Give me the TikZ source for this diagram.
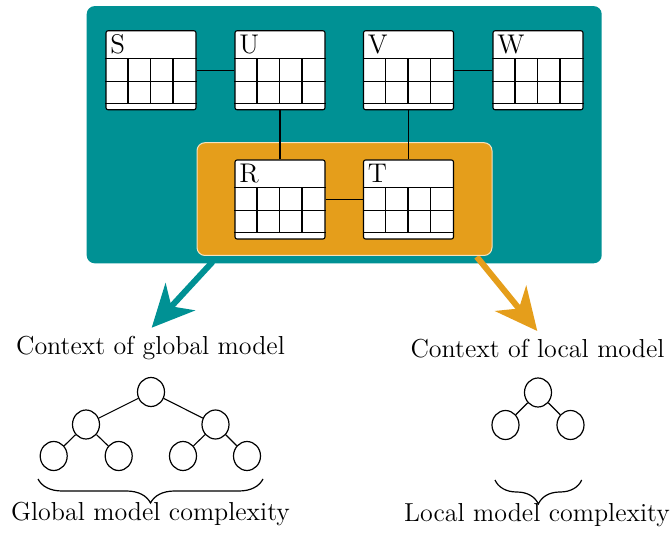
\documentclass[tikz,border=0pt]{standalone}
\usetikzlibrary{arrows.meta,shapes.geometric,decorations.pathreplacing,calc}
\definecolor{tealbox}{RGB}{0,145,148}
\definecolor{ochre}{RGB}{229,158,27}
\definecolor{ochreedge}{RGB}{246,226,190}

\begin{document}
\begin{tikzpicture}[x=0.5pt,y=-0.5pt,
  txt/.style={font=\fontsize{13}{15.6}\selectfont, inner sep=0pt},
  tbl/.style={draw=black, fill=white, rounded corners=1pt, line width=0.55pt,
              minimum width=45pt, minimum height=39.5pt, inner sep=0pt},
  gridline/.style={draw=black, line width=0.55pt},
  link/.style={draw=black, line width=0.6pt},
  vertex/.style={ellipse, draw=black, line width=0.6pt, fill=white,
                 minimum width=13.5pt, minimum height=14.5pt, inner sep=0pt},
  treeedge/.style={draw=black, line width=0.55pt},
  bigarrow/.style={line width=3pt, -{Stealth[length=21pt,width=20pt,inset=6.5pt]}},
  bracket/.style={draw=black, line width=0.6pt, decorate,
                  decoration={brace, amplitude=12pt}}]

\useasboundingbox (0,0) rectangle (670,534);

% outer container of the global model
\node[fill=tealbox, rounded corners=4pt, minimum width=257.5pt,
      minimum height=128.6pt, inner sep=0pt] (global) at (344.2,134.7) {};

% arrows leading out of the two contexts
\coordinate (gstart) at (212.7,261.7);
\coordinate (gtip)   at (151.7,327.7);
\coordinate (lstart) at (476.7,256.7);
\coordinate (ltip)   at (537.3,331.0);
\draw[bigarrow, tealbox] (gstart) -- (gtip);
\draw[bigarrow, ochre]   (lstart) -- (ltip);

% inner container of the local model
\node[fill=ochre, draw=ochreedge, line width=0.5pt, rounded corners=4pt,
      minimum width=147.5pt, minimum height=56.4pt, inner sep=0pt]
      (local) at (344.5,199.1) {};

% relation tables
\node[tbl] (S) at (151,70.25)   {};
\node[tbl] (U) at (280,70.25)   {};
\node[tbl] (V) at (408.5,70.25) {};
\node[tbl] (W) at (538,70.25)   {};
\node[tbl] (R) at (280,199.5)   {};
\node[tbl] (T) at (408.5,199.5) {};

\foreach \t in {S,U,V,W,R,T}{
  \draw[gridline] ($(\t.north west)+(0,28.5)$) -- ($(\t.north east)+(0,28.5)$);
  \draw[gridline] ($(\t.north west)+(0,51)$)   -- ($(\t.north east)+(0,51)$);
  \draw[gridline] ($(\t.north west)+(0,73.5)$) -- ($(\t.north east)+(0,73.5)$);
  \foreach \c in {22.5,45,67.5}{
    \draw[gridline] ($(\t.north west)+(\c,28.5)$) -- ($(\t.north west)+(\c,73.5)$);
  }
  \node[txt, anchor=base west, font=\fontsize{13.5}{16}\selectfont] (\t-name)
        at ($(\t.north west)+(4.5,23)$) {\t};
}

% joins between tables
\draw[link] (S.east) -- (U.west);
\draw[link] (V.east) -- (W.west);
\draw[link] (R.east) -- (T.west);
\draw[link] (U.south) -- (R.north);
\draw[link] (V.south) -- (T.north);

% captions
\node[txt, anchor=base] (ctxg) at (150.5,355) {Context of global model};
\node[txt, anchor=base] (ctxl) at (537.5,358) {Context of local model};

% global model tree
\node[vertex] (g)   at (151,392)   {};
\node[vertex] (g1)  at (86,424.5)  {};
\node[vertex] (g2)  at (215.5,424.5) {};
\node[vertex] (g11) at (53.7,456)  {};
\node[vertex] (g12) at (118.7,456) {};
\node[vertex] (g21) at (183,456)   {};
\node[vertex] (g22) at (247,456)   {};
\draw[treeedge] (g) -- (g1);
\draw[treeedge] (g) -- (g2);
\draw[treeedge] (g1) -- (g11);
\draw[treeedge] (g1) -- (g12);
\draw[treeedge] (g2) -- (g21);
\draw[treeedge] (g2) -- (g22);

% local model tree
\node[vertex] (l)  at (538,392.5) {};
\node[vertex] (l1) at (505.5,425) {};
\node[vertex] (l2) at (570.5,425) {};
\draw[treeedge] (l) -- (l1);
\draw[treeedge] (l) -- (l2);

% complexity braces
\coordinate (gb1) at (38,479);
\coordinate (gb2) at (263,479);
\coordinate (lb1) at (495,480);
\coordinate (lb2) at (581.7,480);
\draw[bracket] (gb2) -- (gb1);
\draw[bracket] (lb2) -- (lb1);

\node[txt, anchor=base] (cplg) at (150.5,520) {Global model complexity};
\node[txt, anchor=base] (cpll) at (537,521) {Local model complexity};

\end{tikzpicture}
\end{document}
